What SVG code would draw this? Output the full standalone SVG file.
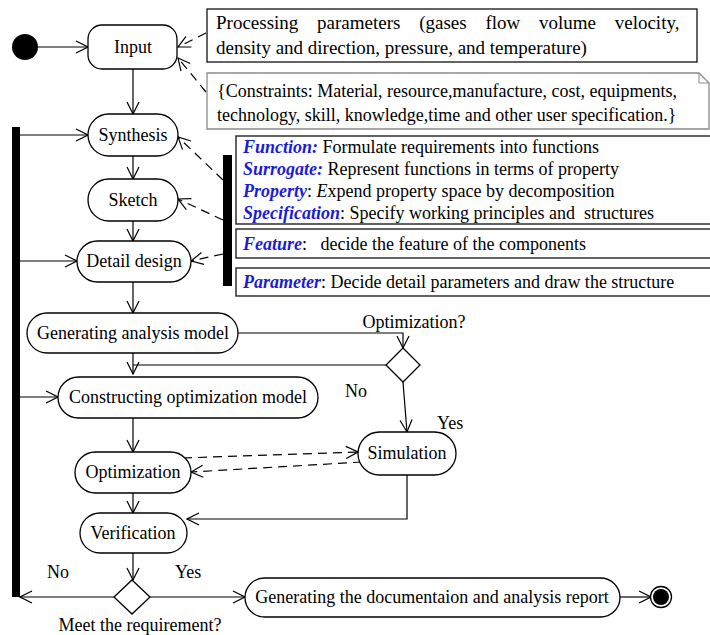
<svg xmlns="http://www.w3.org/2000/svg" width="710" height="635" viewBox="0 0 710 635">
  <defs>
    <marker id="open" viewBox="0 0 14 14" refX="13" refY="7" markerWidth="14" markerHeight="14" markerUnits="userSpaceOnUse" orient="auto">
      <path d="M1,1 L13,7 L1,13" fill="none" stroke="#000" stroke-width="1.2"/>
    </marker>
    <style>
      text { font-family: "Liberation Serif", "Times New Roman", serif; font-size: 18px; fill: #000; }
      .c { text-anchor: middle; }
      .node { fill: #fff; stroke: #000; stroke-width: 1.3; }
      .box { fill: #fff; stroke: #222; stroke-width: 1.4; }
      .note { fill: #fff; stroke: #8a8a8a; stroke-width: 1.3; }
      .bar { fill: #000; }
      .flow { fill: none; stroke: #000; stroke-width: 1.2; marker-end: url(#open); }
      .line { fill: none; stroke: #000; stroke-width: 1.2; }
      .dash { fill: none; stroke: #000; stroke-width: 1.2; stroke-dasharray: 9 6; marker-end: url(#open); }
      .key { font-weight: bold; font-style: italic; fill: #1c1cd6; }
      .it { font-style: italic; }
      .par { font-size: 19px; }
    </style>
  </defs>

  <!-- connectors -->
  <g id="connectors">
    <line class="flow" x1="38" y1="47" x2="88" y2="47"/>
    <line class="flow" x1="133" y1="69" x2="133" y2="114"/>
    <line class="flow" x1="133" y1="156" x2="133" y2="179"/>
    <line class="flow" x1="133" y1="221" x2="133" y2="241"/>
    <line class="flow" x1="133" y1="282" x2="133" y2="313"/>
    <line class="flow" x1="20" y1="135" x2="88" y2="135"/>
    <line class="flow" x1="20" y1="261" x2="77" y2="261"/>
    <line class="flow" x1="20" y1="397" x2="58" y2="397"/>
    <polyline class="flow" points="238,333 403,333 403,348"/>
    <line class="line" x1="386" y1="365" x2="133" y2="365"/>
    <line class="flow" x1="133" y1="353" x2="133" y2="374"/>
    <line class="flow" x1="403" y1="382" x2="407" y2="432"/>
    <line class="flow" x1="133" y1="418" x2="133" y2="452"/>
    <line class="flow" x1="133" y1="493" x2="133" y2="513"/>
    <line class="dash" x1="183" y1="458" x2="358" y2="452"/>
    <line class="dash" x1="362" y1="462" x2="191" y2="472"/>
    <polyline class="flow" points="407,475 407,519 187,519"/>
    <line class="flow" x1="133" y1="553" x2="133" y2="580"/>
    <line class="flow" x1="114" y1="597" x2="20" y2="597"/>
    <line class="flow" x1="150" y1="597" x2="245" y2="597"/>
    <line class="flow" x1="620" y1="597" x2="651" y2="597"/>
    <line class="dash" x1="206" y1="33" x2="178" y2="47"/>
    <line class="dash" x1="206" y1="92" x2="178" y2="58"/>
    <line class="dash" x1="223" y1="180" x2="178" y2="137"/>
    <line class="dash" x1="223" y1="220" x2="178" y2="199"/>
    <line class="dash" x1="223" y1="254" x2="191" y2="261"/>
  </g>

  <!-- start / end -->
  <g id="start"><circle cx="25" cy="47" r="13" fill="#000"/></g>
  <g id="end">
    <circle cx="661" cy="597" r="10.5" fill="#fff" stroke="#000" stroke-width="1.3"/>
    <circle cx="661" cy="597" r="8" fill="#000"/>
  </g>

  <!-- bars -->
  <g id="loop-bar"><rect class="bar" x="12" y="127" width="8" height="470"/></g>
  <g id="design-bar"><rect class="bar" x="223" y="155" width="9" height="131"/></g>

  <!-- activity nodes -->
  <g id="input"><rect class="node" x="88" y="25" width="89" height="44" rx="14"/><text class="c" x="133" y="53">Input</text></g>
  <g id="synthesis"><rect class="node" x="88" y="114" width="90" height="42" rx="21"/><text class="c" x="133" y="141">Synthesis</text></g>
  <g id="sketch"><rect class="node" x="88" y="179" width="90" height="42" rx="21"/><text class="c" x="133" y="206">Sketch</text></g>
  <g id="detail-design"><rect class="node" x="77" y="241" width="114" height="41" rx="20.5"/><text class="c" x="134" y="267">Detail design</text></g>
  <g id="analysis-model"><rect class="node" x="27" y="313" width="211" height="40" rx="20"/><text class="c" x="133" y="339">Generating analysis model</text></g>
  <g id="optimization-model"><rect class="node" x="58" y="377" width="260" height="41" rx="20.5"/><text class="c" x="188" y="403">Constructing optimization model</text></g>
  <g id="optimization"><rect class="node" x="75" y="452" width="116" height="41" rx="20.5"/><text class="c" x="133" y="478">Optimization</text></g>
  <g id="verification"><rect class="node" x="80" y="513" width="107" height="40" rx="20"/><text class="c" x="133" y="539">Verification</text></g>
  <g id="simulation"><rect class="node" x="358" y="432" width="98" height="43" rx="21.5"/><text class="c" x="407" y="459">Simulation</text></g>
  <g id="report"><rect class="node" x="245" y="578" width="375" height="39" rx="19.5"/><text class="c" x="432" y="603">Generating the documentaion and analysis report</text></g>

  <!-- decisions -->
  <g id="optimization-decision">
    <polygon class="node" points="403,348 420,365 403,382 386,365"/>
    <text class="c" x="414" y="328">Optimization?</text>
    <text x="345" y="397">No</text>
    <text x="437" y="429">Yes</text>
  </g>
  <g id="requirement-decision">
    <polygon class="node" points="132,580 150,597 132,614 114,597"/>
    <text x="47" y="578">No</text>
    <text x="175" y="578">Yes</text>
    <text class="c" x="140" y="631">Meet the requirement?</text>
  </g>

  <!-- input information (first line justified) -->
  <g id="parameters">
    <rect class="box" x="207" y="9" width="490" height="53"/>
    <text class="par" x="216" y="29" word-spacing="14">Processing parameters (gases flow volume velocity,</text>
    <text class="par" x="216" y="54">density and direction, pressure, and temperature)</text>
  </g>
  <g id="constraints">
    <path class="note" d="M207,73 H699 L709,83 V129 H207 Z"/>
    <path d="M699,73 V83 H709" fill="none" stroke="#8a8a8a" stroke-width="1"/>
    <text x="217" y="97">{Constraints: Material, resource,manufacture, cost, equipments,</text>
    <text x="217" y="121">technology, skill, knowledge,time and other user specification.}</text>
  </g>

  <!-- design steps -->
  <g id="steps-concept">
    <rect class="box" x="236" y="136" width="476" height="88"/>
    <text x="243" y="153"><tspan class="key">Function:</tspan> Formulate requirements into functions</text>
    <text x="243" y="175"><tspan class="key">Surrogate:</tspan> Represent functions in terms of property</text>
    <text x="243" y="197"><tspan class="key">Property</tspan>: <tspan class="it">E</tspan>xpend property space by decomposition</text>
    <text x="243" y="219" xml:space="preserve"><tspan class="key">Specification</tspan>: Specify working principles and  structures</text>
  </g>
  <g id="steps-feature">
    <rect class="box" x="236" y="229" width="476" height="29"/>
    <text x="243" y="250" xml:space="preserve"><tspan class="key">Feature</tspan>:   decide the feature of the components</text>
  </g>
  <g id="steps-parameter">
    <rect class="box" x="236" y="268" width="476" height="28"/>
    <text x="243" y="288"><tspan class="key">Parameter</tspan>: Decide detail parameters and draw the structure</text>
  </g>
</svg>
